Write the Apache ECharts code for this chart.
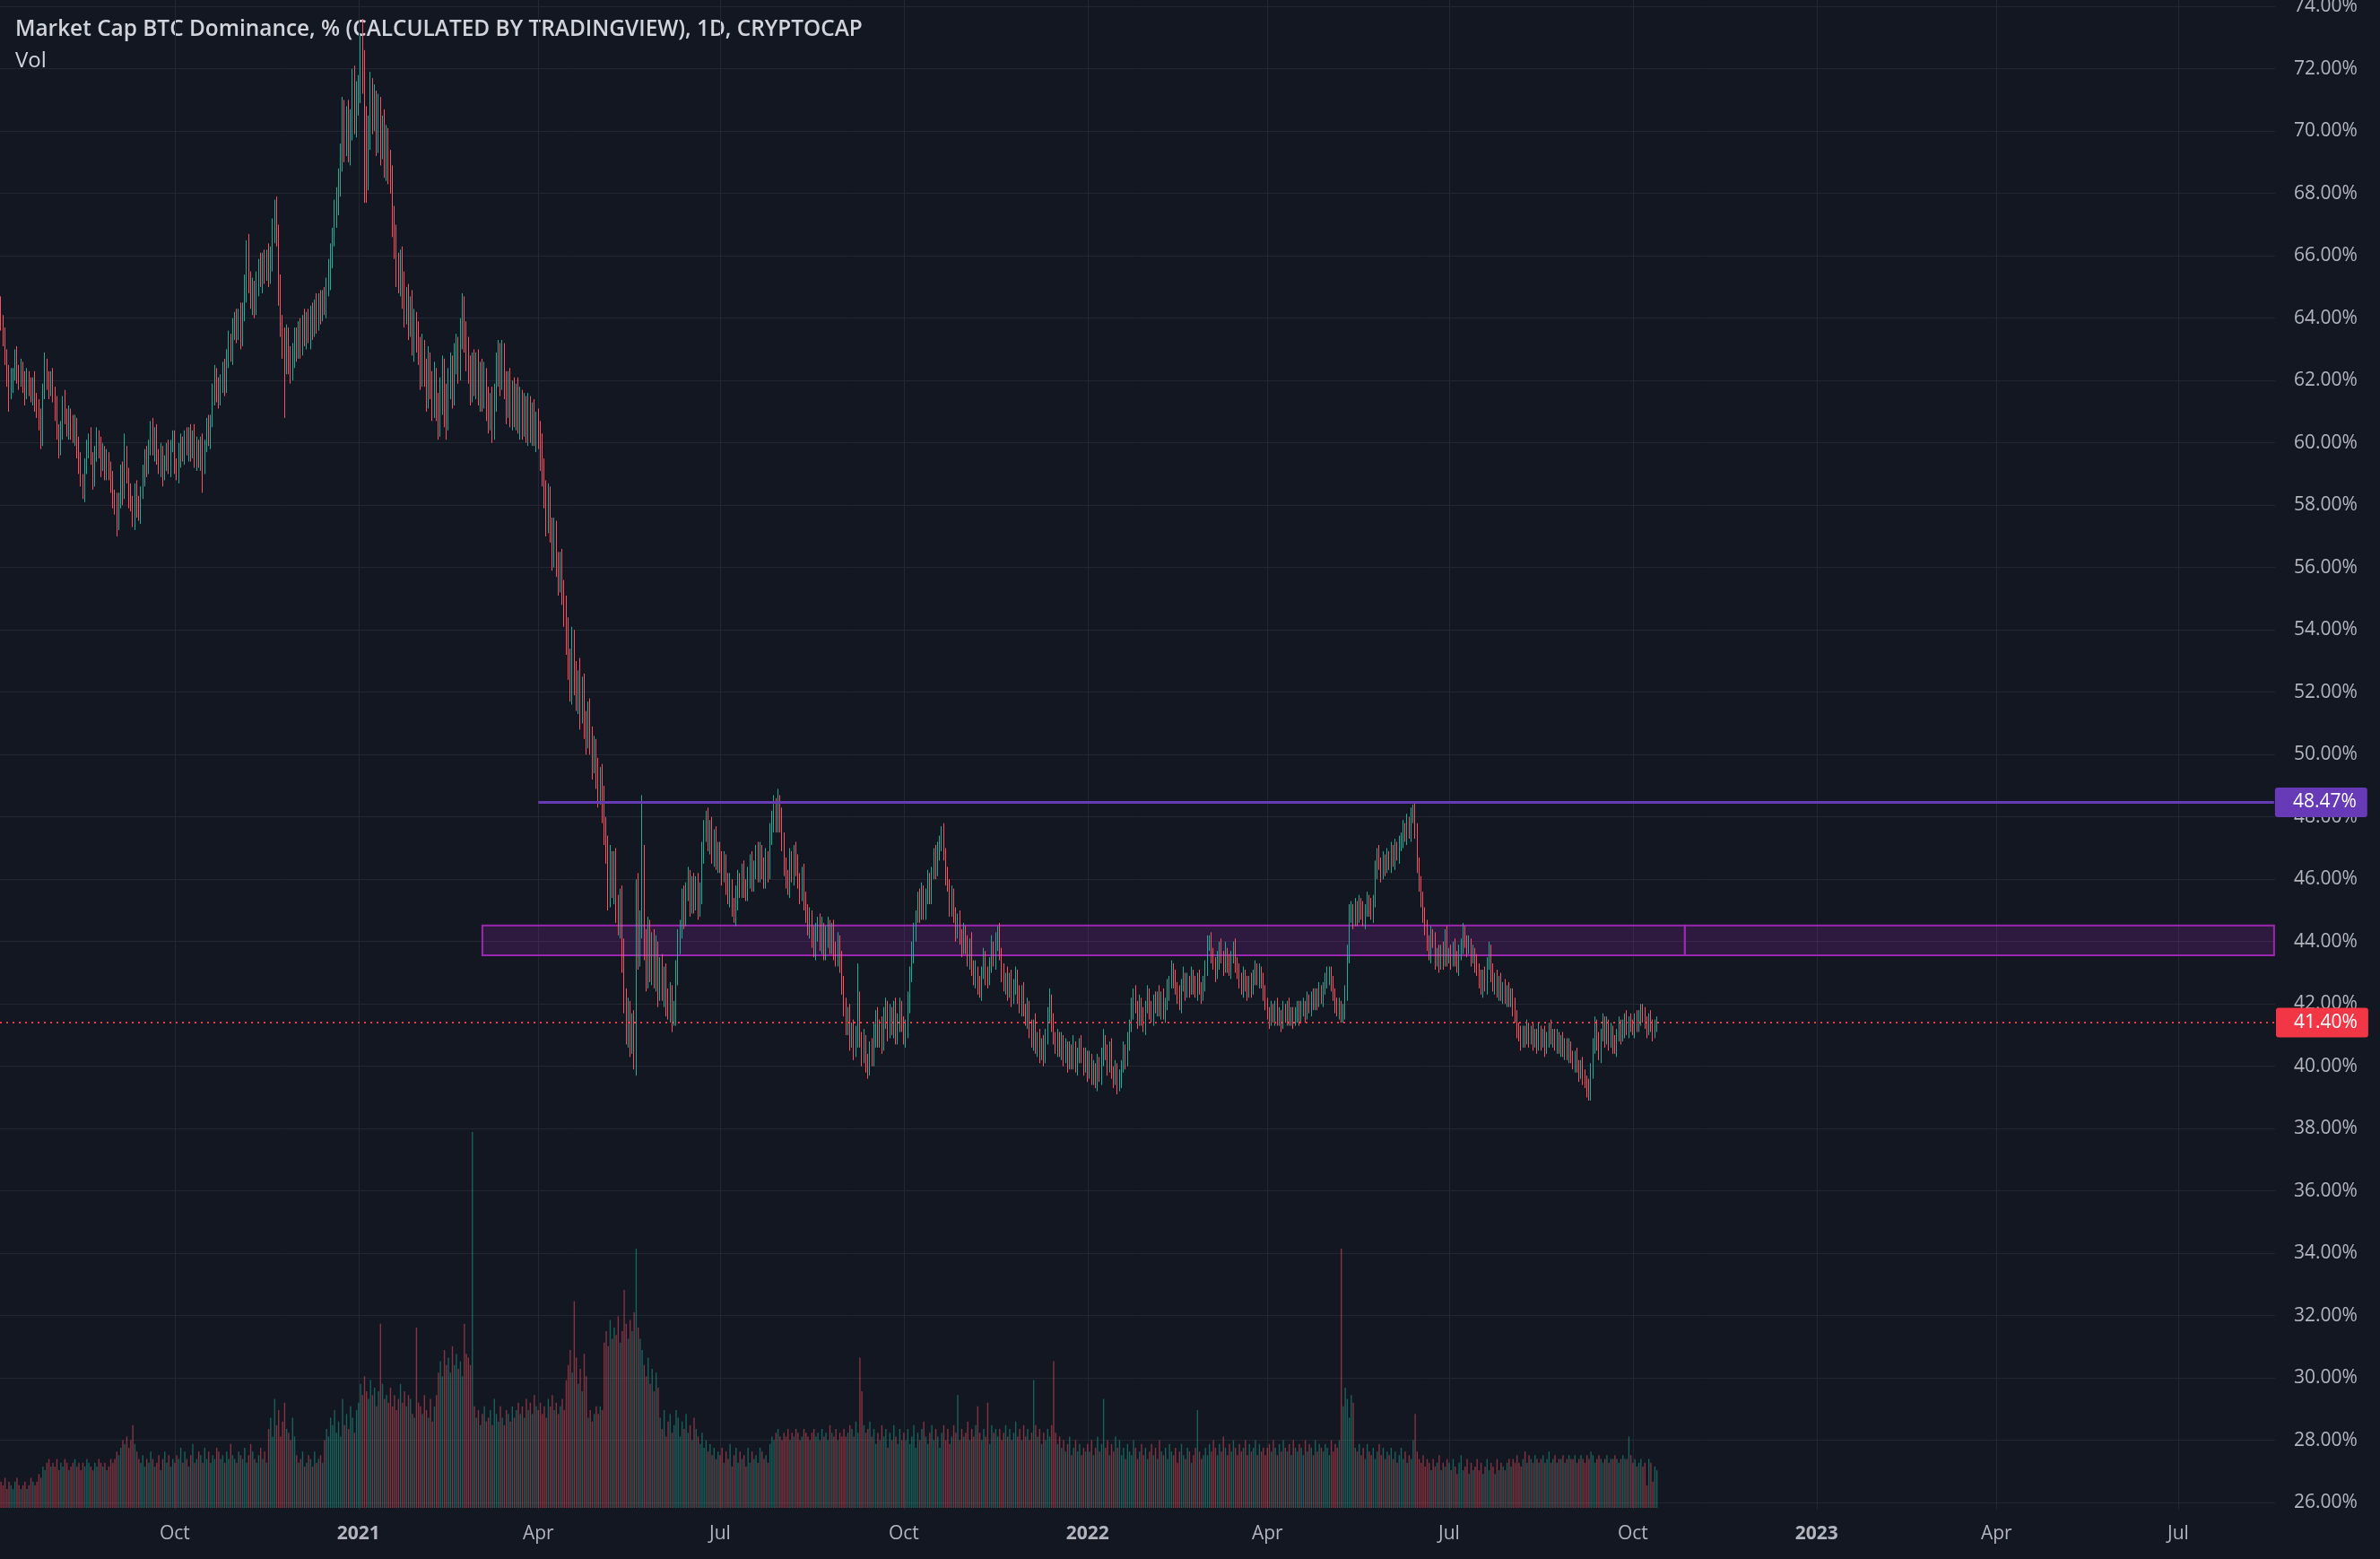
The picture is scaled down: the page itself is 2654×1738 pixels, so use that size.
<!DOCTYPE html>
<html><head><meta charset="utf-8">
<script src="https://cdn.jsdelivr.net/npm/echarts@6/dist/echarts.min.js"></script>
<style>html,body{margin:0;padding:0;background:#131722;}#c{width:2654px;height:1738px;}</style>
</head><body><div id="c"></div>
<script>
// ---- DATA ----
const startDate = '2020-07-06';
const endDate = '2023-08-18';
const firstOpen = 64.4;
// daily closes (%), one row per month
const closes = [
63.9,63.3,62.8,62.2,61.6,61.9,62.2,62.7,62.3,62.0,62.4,61.9,61.6,62.1,61.8,61.5,61.9,61.4,61.1,60.6,60.2,61.6,62.5,62.0,61.8,62.1,
61.6,61.1,60.3,59.8,60.5,61.2,60.9,60.4,60.9,60.5,60.2,60.6,59.9,59.3,58.8,58.5,59.2,59.8,60.1,59.5,58.9,59.6,60.2,59.8,59.3,59.7,59.1,59.5,59.0,58.8,58.2,
58.0,57.4,58.2,59.0,58.4,59.6,59.0,58.3,58.0,57.6,58.5,57.9,57.7,58.4,59.0,59.5,59.2,59.9,60.4,59.8,60.3,59.6,59.2,59.6,59.0,59.4,59.7,59.2,59.9,60.1,
59.3,59.0,59.6,60.0,59.6,60.1,59.8,60.3,59.7,60.2,59.5,59.9,59.4,59.9,59.3,59.9,60.5,60.2,60.7,61.5,62.2,61.7,61.4,61.9,62.4,61.9,62.6,63.3,62.9,63.6,63.9,
63.6,64.0,63.5,64.2,65.0,66.2,65.2,64.6,64.9,64.4,65.1,65.6,65.3,65.8,65.5,65.9,65.4,66.0,66.8,67.3,66.6,64.9,63.8,63.2,62.6,63.4,62.7,62.3,62.9,63.3,
63.0,63.6,63.2,63.8,63.4,63.9,63.5,64.1,63.7,64.3,63.9,64.5,64.3,64.6,64.4,65.0,65.4,66.0,66.6,67.3,67.8,68.3,69.2,70.5,69.6,70.4,69.5,70.2,71.6,70.3,71.0,
71.3,72.5,71.8,70.2,68.6,70.0,71.2,70.4,70.9,69.8,70.6,69.5,70.1,69.0,69.7,68.8,68.4,67.2,66.4,65.6,65.2,65.8,64.9,64.2,64.6,63.9,64.3,63.2,63.8,63.4,62.9,
62.3,62.9,62.2,61.6,62.5,61.8,61.3,62.0,61.1,60.7,61.5,62.3,61.4,60.9,61.8,62.4,61.7,62.6,63.0,62.5,63.4,64.2,63.5,62.8,62.3,61.8,62.5,61.9,
62.4,61.6,62.2,61.5,62.0,61.3,60.8,61.2,60.6,61.4,62.3,62.8,62.1,62.7,61.9,61.2,61.8,61.0,61.6,60.9,61.5,60.7,61.3,60.6,61.1,60.5,61.0,60.4,60.9,60.3,60.6,
60.3,59.7,59.0,58.4,57.6,58.1,57.2,56.5,57.0,56.1,55.7,56.0,55.2,54.6,53.8,52.9,52.1,53.4,52.5,51.8,52.3,51.4,52.0,51.0,50.6,51.2,50.5,49.8,50.1,49.4,
48.8,49.2,48.4,47.6,46.9,45.6,46.5,45.8,46.4,45.1,44.6,45.2,43.6,42.1,41.2,41.6,40.8,41.3,40.4,45.6,43.7,44.5,46.6,44.0,42.9,44.2,43.2,43.9,42.9,43.6,42.5,
43.1,42.4,42.9,42.0,41.8,42.3,41.6,41.7,42.9,44.0,44.4,45.3,44.9,45.6,46.0,45.2,45.7,45.3,45.8,45.1,45.6,46.8,47.6,47.9,47.2,47.6,46.8,47.3,46.6,46.9,
46.5,46.2,46.6,45.9,45.5,45.8,45.1,44.8,45.4,46.0,45.7,46.2,45.8,45.6,46.1,46.5,45.9,46.4,46.8,46.2,46.9,46.4,46.0,46.6,46.3,47.4,47.9,48.3,47.8,48.4,47.9,
47.2,46.5,46.0,45.8,46.6,46.2,46.9,46.4,46.0,45.6,46.1,45.4,44.9,44.5,44.8,44.1,43.8,44.3,44.6,44.0,44.4,43.7,44.2,44.5,43.9,44.3,43.8,43.5,44.0,43.4,42.6,
42.0,41.3,41.6,40.9,41.2,40.6,40.9,42.1,40.9,40.4,40.8,40.1,40.0,40.6,40.3,41.0,41.6,40.9,41.3,40.8,41.5,41.9,41.2,41.7,41.3,41.8,41.0,41.5,41.9,41.4,
41.0,41.2,42.0,42.9,43.6,44.3,44.8,45.3,44.9,45.6,45.0,45.4,45.9,45.5,46.2,46.7,46.3,46.9,47.2,47.5,46.8,46.1,45.8,45.1,45.5,44.8,44.3,44.7,44.2,43.8,44.3,
43.9,43.4,43.9,43.2,42.8,43.1,42.6,42.4,43.0,43.5,42.9,42.8,43.3,43.8,43.4,44.0,44.3,43.6,43.0,42.6,42.9,42.4,42.8,42.2,42.6,42.9,42.3,41.9,42.4,41.8,
41.5,41.9,41.2,40.8,41.3,40.6,40.9,40.4,40.7,40.3,41.0,41.6,42.1,41.4,41.0,40.6,40.9,40.5,40.8,40.3,40.6,40.1,40.5,40.2,40.6,40.0,40.3,40.7,40.4,40.0,40.3,
39.8,40.2,39.7,39.9,39.5,40.1,39.7,40.3,40.8,40.4,40.0,40.6,39.9,39.6,39.9,39.4,39.6,40.0,40.5,40.2,40.8,41.3,41.8,42.3,41.9,41.5,42.0,41.6,41.3,41.9,42.3,
41.8,41.6,42.1,41.9,42.3,41.8,42.2,41.7,42.0,42.4,42.7,43.1,42.8,42.5,42.3,42.0,42.6,42.9,42.4,42.7,42.5,42.9,42.6,42.4,42.8,42.5,42.3,42.6,
43.2,43.9,44.0,43.6,43.3,43.0,43.4,43.8,43.5,43.2,43.6,43.3,43.1,43.5,43.8,43.3,43.0,42.8,42.5,42.9,42.6,42.4,42.7,42.5,42.9,43.1,42.8,43.0,42.7,42.4,42.0,
41.7,41.5,41.8,41.6,41.9,41.5,41.7,41.4,41.8,41.6,41.9,41.5,41.7,41.5,41.6,41.9,41.6,41.8,42.0,41.7,42.1,41.9,42.2,42.0,42.3,42.1,42.4,42.2,42.5,42.7,
42.9,43.0,42.6,42.3,42.0,41.8,41.9,41.6,41.8,42.3,43.6,44.8,45.0,44.7,45.1,44.8,45.2,45.0,44.7,45.0,45.3,45.1,44.9,45.3,46.3,46.8,46.5,46.2,46.6,46.4,46.7,
46.5,46.9,46.6,47.0,46.8,47.1,47.3,47.6,47.4,47.8,47.5,48.0,48.2,47.6,46.4,45.9,45.3,44.9,44.4,44.0,43.6,44.2,44.0,43.4,43.6,43.3,43.7,43.4,44.2,43.5,
43.6,43.4,43.8,43.5,43.2,43.6,43.9,44.3,44.0,43.8,43.9,43.5,43.6,43.3,43.1,42.8,42.5,42.9,42.6,43.3,43.7,43.0,42.6,42.8,42.4,42.7,42.3,42.5,42.2,42.4,42.1,
42.3,41.9,41.6,41.2,41.0,40.8,41.1,40.9,41.2,40.9,41.1,40.8,41.0,40.7,41.1,40.8,41.0,40.6,40.9,41.2,40.9,41.0,40.7,40.9,40.6,40.8,40.5,40.7,40.4,40.6,40.3,
40.1,40.3,40.0,39.8,40.0,39.7,39.5,39.3,39.1,39.9,40.6,41.3,40.8,40.4,41.0,41.4,40.9,41.3,40.8,41.1,40.7,40.6,41.0,41.3,41.0,41.2,41.5,41.2,41.4,41.3,
41.2,41.5,41.3,41.6,41.8,41.6,41.4,41.2,41.5,41.3,41.1,41.3,41.40
];
// upper wick above the body, tenths of a percent
const hiW = [
3,2,4,2,3,5,2,3,4,2,3,2,4,3,2,3,2,4,2,3,5,3,4,2,3,2,
3,2,4,3,2,3,5,2,3,2,4,3,2,3,4,2,3,3,2,4,2,3,3,2,4,3,2,3,2,4,3,
3,4,2,3,4,7,3,2,4,3,2,3,4,2,3,3,4,2,3,4,2,3,2,4,3,2,3,4,2,3,
3,2,4,3,2,3,4,2,3,2,4,3,2,3,4,2,3,4,2,4,3,2,4,3,2,3,4,3,2,4,3,
4,3,5,3,4,3,5,3,4,3,4,3,5,3,4,3,5,3,4,5,6,4,5,3,5,4,3,4,3,4,
4,3,4,3,5,3,4,3,4,3,5,3,4,3,4,3,5,4,3,5,4,5,4,6,5,4,6,5,4,5,6,
5,6,11,8,6,5,7,5,6,4,6,5,4,6,5,4,6,5,4,6,5,4,5,6,4,5,4,6,5,4,5,
5,6,4,5,6,4,5,6,4,5,6,5,4,5,6,5,4,6,5,4,6,6,5,4,6,5,4,5,
5,6,4,5,6,4,5,4,6,5,6,5,4,6,5,4,5,6,4,5,4,6,5,4,5,4,6,5,4,5,4,
5,4,6,5,4,6,5,4,6,5,4,5,6,4,5,6,5,7,6,5,4,8,5,6,4,5,6,4,5,4,
5,4,5,6,4,5,6,4,5,6,4,5,6,5,4,6,5,4,5,4,6,5,21,5,4,6,5,4,5,6,4,
4,5,3,4,5,4,3,4,5,4,3,4,5,3,4,3,4,5,3,4,3,4,3,3,4,3,4,3,4,3,
3,4,3,2,3,4,2,3,4,3,2,3,4,2,3,3,4,2,3,4,3,2,3,4,3,4,3,4,3,5,3,
4,3,2,3,4,3,2,3,4,2,3,4,2,3,3,2,4,3,2,3,4,2,3,3,2,3,4,2,3,2,3,
3,2,3,4,2,3,4,12,3,2,4,2,3,2,3,4,2,3,2,3,4,3,2,3,2,3,4,2,3,2,
2,3,4,3,4,3,2,3,4,3,2,3,4,3,2,3,4,3,2,2,3,2,3,2,3,2,3,2,3,2,3,
2,3,2,4,2,3,1,3,2,3,2,3,2,4,2,3,2,3,2,3,1,3,2,3,2,3,2,3,2,3,
2,3,2,3,2,4,2,3,2,3,2,3,4,2,3,1,3,2,3,2,3,2,3,2,4,2,3,2,3,2,3,
2,3,2,3,2,3,2,3,4,2,3,2,3,1,3,2,3,2,3,2,3,2,4,2,3,2,3,2,3,2,3,
2,3,2,3,1,3,2,3,2,4,2,3,2,3,2,3,2,3,1,3,2,3,2,3,2,3,2,3,
2,3,2,3,2,2,3,2,3,2,4,2,3,2,2,3,2,3,2,3,2,3,2,3,2,3,2,3,2,3,2,
2,2,3,2,2,3,2,1,3,2,2,3,2,2,3,2,2,3,2,1,3,2,2,3,2,2,3,2,2,3,
3,2,2,3,2,2,3,2,2,3,3,4,3,2,3,2,3,2,3,2,3,2,3,2,3,2,3,2,3,2,3,
2,3,2,3,2,3,2,3,2,3,2,3,2,3,2,3,2,3,2,3,2,3,2,3,2,3,2,3,2,3,
2,3,2,3,2,3,2,3,2,2,3,2,3,2,3,2,3,2,3,2,3,2,3,2,3,2,3,2,3,2,3,
2,2,3,2,2,3,2,2,3,2,2,3,2,2,3,2,2,3,2,2,3,2,2,3,2,2,3,2,2,3,2,
2,2,3,2,2,3,2,2,3,2,3,3,2,3,2,3,2,3,2,3,2,3,2,3,2,3,2,3,2,3,
2,2,3,2,2,2,3,2,2,3,2,2,2
];
// lower wick below the body, tenths of a percent
const loW = [
3,2,3,4,6,2,3,2,4,3,2,3,4,2,3,2,3,4,3,2,4,3,2,3,4,3,
3,4,2,3,2,4,3,2,3,4,2,3,4,3,2,3,4,2,3,2,4,3,2,3,4,2,3,3,2,4,3,
3,4,2,3,4,2,3,4,2,3,4,3,2,3,2,4,3,2,3,2,4,3,2,3,4,2,3,2,3,2,
3,2,3,4,2,3,2,4,3,2,3,4,2,3,9,3,2,3,4,2,3,4,3,2,3,4,3,2,3,4,3,
4,3,5,4,3,5,4,3,5,4,3,4,3,5,4,3,4,3,5,4,3,5,4,5,18,4,5,4,3,5,
4,3,5,4,3,4,3,5,4,3,4,3,5,4,3,4,3,5,4,3,4,5,4,5,6,4,5,6,5,4,5,
5,4,6,25,9,5,6,5,4,6,5,6,4,5,6,5,4,6,5,6,4,5,6,5,4,6,5,4,6,5,4,
6,5,4,6,5,4,6,5,4,6,5,6,9,8,5,4,6,5,4,6,5,4,6,5,4,6,5,4,
5,4,6,5,4,6,5,4,6,5,4,5,6,4,5,6,4,5,6,4,5,4,6,5,4,5,6,4,5,4,6,
5,6,4,5,6,5,4,6,5,4,6,5,4,5,6,5,4,5,6,4,5,6,4,5,6,4,5,6,4,5,
5,4,6,5,4,6,5,4,6,5,4,5,6,4,5,6,5,4,5,7,6,5,4,6,5,4,5,6,4,5,6,
4,3,5,4,3,4,5,3,4,3,4,3,5,4,3,4,3,4,3,4,3,4,3,4,3,4,3,4,3,4,
3,4,3,4,3,4,3,2,3,4,3,3,4,3,3,4,3,3,4,3,3,4,3,3,4,3,3,4,3,3,4,
3,4,3,3,4,3,4,3,3,4,3,4,3,3,4,3,3,4,3,3,4,3,3,4,3,3,4,3,3,4,3,
4,3,3,4,3,4,3,3,3,4,3,3,4,3,3,3,4,3,3,4,3,3,4,3,3,4,3,3,4,3,
3,4,3,3,2,3,3,2,3,2,3,3,2,3,3,2,3,2,3,3,2,3,2,3,3,2,3,2,3,3,2,
3,2,3,3,2,3,3,2,3,2,3,3,2,3,2,3,3,2,3,2,3,3,2,3,2,3,3,2,3,2,
2,3,3,2,3,2,3,3,2,3,2,3,2,3,3,2,3,2,3,3,2,3,2,3,3,2,3,2,3,3,2,
3,2,3,3,2,3,2,3,3,2,3,2,3,3,2,3,2,3,2,3,2,3,2,3,2,3,2,3,2,3,2,
3,2,3,2,3,2,3,2,3,2,3,2,3,2,3,2,3,2,3,2,3,2,3,2,3,2,3,2,
2,3,2,3,2,3,2,3,2,3,2,3,2,3,2,3,2,3,2,3,2,3,2,3,2,3,2,3,2,3,2,
2,3,2,2,3,2,2,3,2,2,3,2,2,3,2,2,3,2,2,3,2,2,3,2,2,3,2,2,3,2,
2,3,2,2,3,2,3,2,2,3,2,3,2,3,2,3,2,3,2,3,2,3,2,3,2,3,2,3,2,3,2,
2,3,2,3,2,3,2,3,2,3,2,3,2,3,2,3,2,3,2,3,2,3,2,3,2,3,2,3,2,3,
2,3,2,3,2,3,2,3,2,3,2,3,2,3,2,3,2,3,2,3,2,3,2,3,2,3,2,3,2,3,2,
2,3,2,3,2,3,2,3,2,3,2,3,2,3,2,3,2,3,2,3,2,3,2,3,2,3,2,3,2,3,2,
2,3,2,3,2,3,2,3,2,2,3,2,3,2,3,2,3,2,3,2,3,2,3,2,3,2,3,2,3,2,
2,3,2,2,3,2,2,3,2,2,3,2,2
];
// daily volume (relative units, 100 = largest bar)
const volumes = [
7,6,8,5,7,6,5,7,8,6,5,6,7,5,6,8,7,6,7,9,8,11,10,12,13,11,
12,11,13,10,12,11,13,12,10,11,12,13,11,12,10,12,11,13,12,11,10,12,11,13,12,11,12,10,11,13,12,
13,15,14,16,18,17,19,16,18,22,17,15,13,12,14,11,13,12,15,13,11,12,14,10,13,15,12,14,11,13,
12,14,13,16,12,15,13,11,14,17,12,13,15,14,12,16,13,15,12,14,13,16,15,13,14,12,15,13,17,14,13,
12,15,14,13,16,12,14,17,15,13,12,14,16,13,15,12,21,24,19,29,22,26,19,23,28,21,20,18,24,19,
14,12,13,15,11,12,14,13,11,15,12,13,14,12,18,21,19,24,22,26,20,23,19,29,22,25,21,27,24,20,26,
28,33,30,35,31,29,34,30,32,27,31,49,33,29,30,28,32,27,30,26,29,33,28,31,27,30,29,25,24,48,28,
27,25,30,26,24,29,23,27,30,36,39,35,42,38,40,36,43,38,41,37,39,35,49,41,40,38,100,27,
24,26,22,25,27,23,24,26,22,29,25,23,27,24,22,26,25,23,27,24,26,28,25,27,24,29,26,28,25,30,27,
26,28,25,27,24,29,27,30,26,28,25,27,29,26,34,38,42,36,55,40,33,37,31,41,35,24,26,23,25,27,
25,27,26,44,47,43,50,45,48,46,51,44,47,58,49,45,50,47,52,69,48,45,42,38,35,40,33,37,31,36,32,
24,21,26,19,23,25,20,22,26,24,19,23,21,25,20,22,18,24,21,19,17,20,16,18,15,17,14,16,13,15,
14,16,12,15,13,17,11,14,16,12,15,13,14,11,16,12,15,13,14,12,16,15,13,14,12,17,19,18,20,21,19,
18,20,19,21,18,20,19,21,20,18,19,21,20,19,18,20,21,19,20,18,21,19,20,18,22,20,19,21,18,20,19,
21,19,20,22,21,19,23,20,40,31,22,20,21,23,19,21,17,20,18,22,19,21,16,20,18,22,19,17,21,18,
20,18,21,17,19,22,16,20,18,21,23,19,17,20,22,18,21,19,16,20,22,18,21,17,19,22,20,30,18,21,19,
20,23,18,21,19,22,27,20,18,21,19,28,17,22,20,21,19,21,18,20,22,19,21,18,20,23,19,21,18,22,
19,21,18,20,34,22,19,21,17,20,18,21,19,22,39,20,17,19,16,18,15,17,19,14,16,18,15,17,14,16,15,
17,15,18,14,16,19,15,17,29,16,18,14,17,15,19,16,18,14,16,13,17,15,14,18,16,13,15,17,14,16,13,
15,17,14,16,13,18,15,14,16,13,17,15,14,16,12,15,17,14,13,16,15,12,14,16,26,15,13,14,
16,14,17,15,18,16,14,17,15,19,16,14,17,15,18,16,14,17,15,16,18,14,17,15,16,18,14,17,15,16,14,
16,17,15,18,16,14,17,15,18,16,15,17,14,18,16,15,17,16,14,18,15,17,16,14,18,15,17,16,15,17,
16,14,18,15,17,16,18,69,27,32,29,24,30,28,16,15,17,14,16,13,17,15,14,16,13,15,17,14,16,13,15,
14,16,13,15,12,14,16,13,15,12,14,13,18,25,15,13,12,14,11,13,12,10,13,11,12,14,10,12,11,13,
12,10,13,11,9,12,14,10,11,13,9,12,10,11,13,10,12,9,11,13,10,12,11,9,13,10,12,11,10,12,13,
11,13,12,14,12,11,13,15,12,14,13,12,14,13,12,13,14,12,13,15,12,13,14,12,13,13,14,12,13,14,13,
13,14,12,13,14,13,12,14,13,15,14,12,13,14,13,12,13,14,12,13,13,14,13,12,13,14,13,13,19,14,
12,13,11,12,13,11,12,6,13,12,7,11,10
];
const priceTicks = [26,28,30,32,34,36,38,40,42,44,46,48,50,52,54,56,58,60,62,64,66,68,70,72,74];
const timeLabels = [['2020-10-01','Oct'],['2021-01-01','2021'],['2021-04-01','Apr'],['2021-07-01','Jul'],
  ['2021-10-01','Oct'],['2022-01-01','2022'],['2022-04-01','Apr'],['2022-07-01','Jul'],['2022-10-01','Oct'],
  ['2023-01-01','2023'],['2023-04-01','Apr'],['2023-07-01','Jul']];
const resistanceLevel = 48.47, resistanceFrom = '2021-04-01';
const zoneTop = 44.52, zoneBottom = 43.56, zoneStart = '2021-03-04', zoneSplit = '2022-10-27';
const lastPrice = 41.40;
const titleText = 'Market Cap BTC Dominance, % (CALCULATED BY TRADINGVIEW), 1D, CRYPTOCAP';
const volText = 'Vol';

// ---- BUILD ----
const cats = [];
for (let t = Date.parse(startDate + 'T00:00:00Z'); t <= Date.parse(endDate + 'T00:00:00Z'); t += 86400000) {
  cats.push(new Date(t).toISOString().slice(0, 10));
}
const UP = '#22ab94', DOWN = '#f7525f';
const candles = [], volData = [];
for (let i = 0; i < closes.length; i++) {
  const o = i === 0 ? firstOpen : closes[i - 1], c = closes[i];
  const hi = Math.max(o, c) + (hiW[i] || 0) / 10, lo = Math.min(o, c) - (loW[i] || 0) / 10;
  candles.push([o, c, +lo.toFixed(2), +hi.toFixed(2)]);
  volData.push({ value: volumes[i], itemStyle: { color: c >= o ? 'rgba(34,171,148,0.5)' : 'rgba(247,82,95,0.5)' } });
}
const labelMap = new Map(timeLabels);
const FONT = '"Open Sans", "Noto Sans", sans-serif';
const GRID = '#232733';

const chart = echarts.init(document.getElementById('c'), null, { renderer: 'canvas', width: 2654, height: 1738 });
chart.setOption({
  backgroundColor: '#131722',
  animation: false,
  textStyle: { fontFamily: FONT },
  grid: [
    { left: 0, right: 117, top: 0, bottom: 55, outerBoundsMode: 'none' },
    { left: 0, right: 117, top: 1262, bottom: 57, outerBoundsMode: 'none' }
  ],
  xAxis: [
    { type: 'category', data: cats, gridIndex: 0, boundaryGap: true,
      axisLine: { show: false }, axisTick: { show: false },
      axisLabel: { interval: (i, v) => labelMap.has(v), color: '#b2b5be', fontSize: 21, margin: 17, fontFamily: FONT,
        formatter: v => { const s = labelMap.get(v) || ''; return /^\d{4}$/.test(s) ? '{b|' + s + '}' : s; },
        rich: { b: { fontWeight: 'bold', fontSize: 21, color: '#b2b5be', fontFamily: FONT } } },
      splitLine: { show: true, alignWithLabel: true, interval: (i, v) => labelMap.has(v), lineStyle: { color: GRID, width: 1 } } },
    { type: 'category', data: cats, gridIndex: 1, show: false, boundaryGap: true }
  ],
  yAxis: [
    { type: 'value', gridIndex: 0, position: 'right', min: 25.777, max: 74.207, scale: true,
      axisLine: { show: false }, axisTick: { show: false, customValues: priceTicks },
      axisLabel: { customValues: priceTicks, formatter: v => v.toFixed(2) + '%', color: '#b2b5be', fontSize: 21, margin: 21, fontFamily: FONT },
      splitLine: { show: true, lineStyle: { color: GRID, width: 1 } } },
    { type: 'value', gridIndex: 1, min: 0, max: 100, show: false, splitLine: { show: false } }
  ],
  series: [
    { type: 'bar', xAxisIndex: 1, yAxisIndex: 1, data: volData, barWidth: '62%', z: 1, silent: true },
    { type: 'candlestick', xAxisIndex: 0, yAxisIndex: 0, data: candles, large: false, barWidth: 1.3, z: 3, silent: true,
      itemStyle: { color: UP, color0: DOWN, borderColor: UP, borderColor0: DOWN, borderWidth: 1 },
      markArea: { silent: true,
        itemStyle: { color: 'rgba(156,39,176,0.2)', borderColor: '#9c27b0', borderWidth: 2 },
        data: [
          [{ xAxis: zoneStart, yAxis: zoneTop }, { xAxis: zoneSplit, yAxis: zoneBottom }],
          [{ xAxis: zoneSplit, yAxis: zoneTop }, { xAxis: endDate, yAxis: zoneBottom }]
        ] },
      markLine: { silent: true, symbol: ['none', 'none'], animation: false,
        data: [
          [ { coord: [resistanceFrom, resistanceLevel],
              lineStyle: { color: '#673ab7', width: 3, type: 'solid' },
              label: { show: true, position: 'end', distance: 1, formatter: resistanceLevel.toFixed(2) + '%',
                backgroundColor: '#673ab7', color: '#ffffff', fontSize: 21, fontFamily: FONT,
                padding: [6, 12, 6, 20], borderRadius: 3 } },
            { coord: [endDate, resistanceLevel] } ],
          { yAxis: lastPrice,
            lineStyle: { color: '#f23645', width: 2, type: [2, 5] },
            label: { show: true, position: 'end', distance: 1, formatter: lastPrice.toFixed(2) + '%',
              backgroundColor: '#f23645', color: '#ffffff', fontSize: 21, fontFamily: FONT,
              padding: [6, 12, 6, 20], borderRadius: 3 } }
        ] } }
  ],
  graphic: [
    { type: 'text', left: 17, top: 21, silent: true,
      style: { text: titleText, fill: '#d1d4dc', font: '600 24.4px ' + FONT } },
    { type: 'text', left: 17, top: 56, silent: true,
      style: { text: volText, fill: '#d1d4dc', font: '24px ' + FONT } }
  ]
});
</script>
</body></html>
